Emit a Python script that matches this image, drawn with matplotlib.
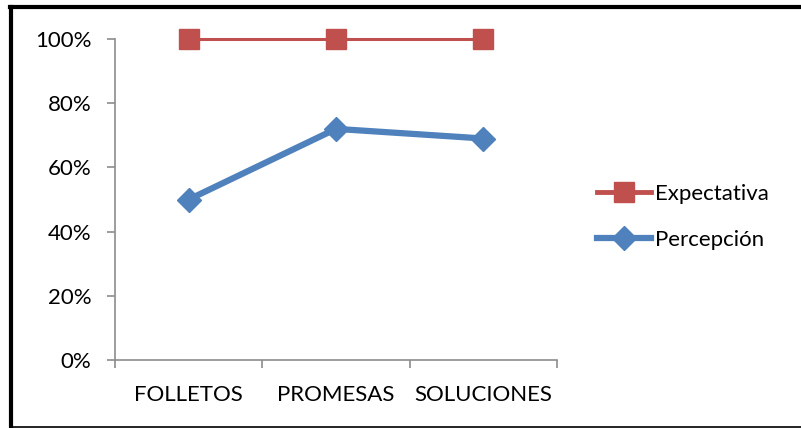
import matplotlib.pyplot as plt
from matplotlib.lines import Line2D
from matplotlib.ticker import PercentFormatter

plt.rcParams['font.family'] = ['Lato', 'DejaVu Sans']

categorias = ['FOLLETOS', 'PROMESAS', 'SOLUCIONES']
expectativa = [1.00, 1.00, 1.00]
percepcion = [0.50, 0.72, 0.69]

W, H = 801, 428
fig = plt.figure(figsize=(W / 100, H / 100), dpi=100)
ax = fig.add_axes([115 / W, (H - 360) / H, (557 - 115) / W, (360 - 39) / H])

x = range(len(categorias))
ax.plot(x, expectativa, color='#C0504D', lw=2.2, marker='s', markersize=14,
        label='Expectativa', clip_on=False)
ax.plot(x, percepcion, color='#4F81BD', lw=4.5, marker='D', markersize=12,
        label='Percepción', clip_on=False)

ax.set_xlim(-0.5, len(categorias) - 0.5)
ax.set_ylim(0, 1)
ax.set_yticks([0, 0.2, 0.4, 0.6, 0.8, 1.0])
ax.yaxis.set_major_formatter(PercentFormatter(1.0, decimals=0))
ax.set_xticks(list(x))
ax.set_xticklabels(categorias)
ax.set_xticks([-0.5, 0.5, 1.5, 2.5], minor=True)

for s in ['top', 'right']:
    ax.spines[s].set_visible(False)
for s in ['left', 'bottom']:
    ax.spines[s].set_color('#8c8c8c')
    ax.spines[s].set_linewidth(1.2)

fs = 16
ax.tick_params(axis='y', length=6, width=1.2, color='#8c8c8c', pad=11,
               labelsize=fs)
ax.tick_params(axis='x', which='major', length=0, pad=18, labelsize=fs)
ax.tick_params(axis='x', which='minor', length=6, width=1.2, color='#8c8c8c')

leg = ax.legend(loc='center left', bbox_to_anchor=(597 / W, (H - 217) / H),
                bbox_transform=fig.transFigure, frameon=False, fontsize=fs,
                handlelength=2.45, handletextpad=0.15, labelspacing=1.15,
                borderpad=0, borderaxespad=0)
leg.get_lines()[0].set_linewidth(3.5)

# marco exterior
fig.add_artist(Line2D([11 / W, 11 / W], [0, 1 - 7 / H], color='black', lw=3,
                      transform=fig.transFigure))
fig.add_artist(Line2D([9.5 / W, 1], [1 - 7 / H, 1 - 7 / H], color='black',
                      lw=3, transform=fig.transFigure))
fig.add_artist(Line2D([11 / W, 1], [1.5 / H, 1.5 / H], color='black', lw=1.2,
                      transform=fig.transFigure))

fig.savefig('out.png', dpi=100)
